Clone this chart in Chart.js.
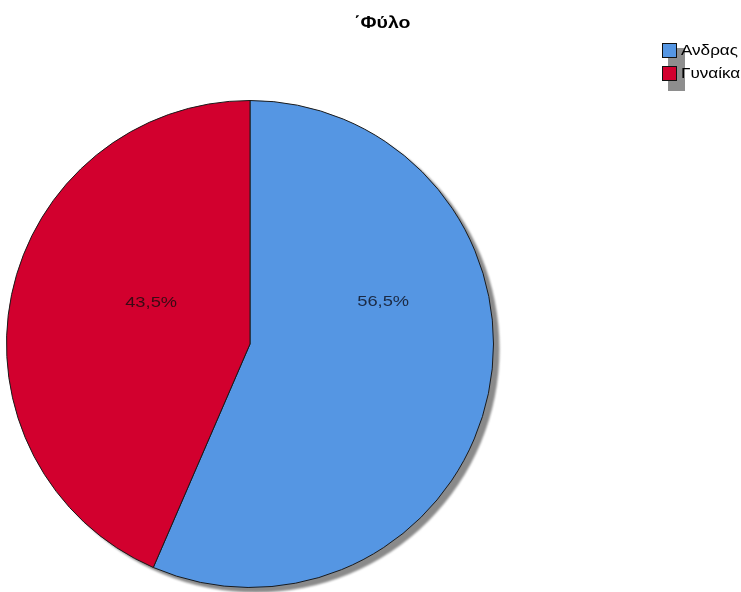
<!DOCTYPE html>
<html>
<head>
<meta charset="utf-8">
<script src="https://cdn.jsdelivr.net/npm/chart.js@4.4.0/dist/chart.umd.min.js"></script>
<style>
html,body{margin:0;padding:0;background:#fff;}
#wrap{width:741px;height:592px;position:relative;}
</style>
</head>
<body>
<div id="wrap"><canvas id="c" width="741" height="592"></canvas></div>
<script>
const titleText = "\u0384Φύλο";
const categories = ["Ανδρας", "Γυναίκα"];
const values = [56.5, 43.5];
const valueLabels = ["56,5%", "43,5%"];
const colors = ["#5596E3", "#D2002E"];

// label anchor as fraction of radius relative to pie centre (SPSS placement)
const labelAnchors = [[0.547, -0.172], [-0.406, -0.17]];
const textStretch = 1.22;

function stretchedText(ctx, txt, x, y, align) {
  ctx.save();
  const w = ctx.measureText(txt).width * textStretch;
  let left = x;
  if (align === 'center') left = x - w / 2;
  ctx.translate(left, y);
  ctx.scale(textStretch, 1);
  ctx.textAlign = 'left';
  ctx.fillText(txt, 0, 0);
  ctx.restore();
}

const decorPlugin = {
  id: 'decor',
  beforeDatasetsDraw(chart) {
    const arc = chart.getDatasetMeta(0).data[0];
    if (!arc) return;
    const ctx = chart.ctx;
    ctx.save();
    ctx.fillStyle = '#8a8a8a';
    ctx.filter = 'blur(1px)';
    ctx.beginPath();
    ctx.arc(arc.x + 6, arc.y + 5, arc.outerRadius, 0, Math.PI * 2);
    ctx.fill();
    ctx.restore();
  },
  afterDatasetsDraw(chart) {
    const meta = chart.getDatasetMeta(0);
    const ctx = chart.ctx;
    ctx.save();
    ctx.font = '15px "Liberation Sans", Arial, sans-serif';
    ctx.textBaseline = 'middle';
    meta.data.forEach((a, i) => {
      const r = a.outerRadius;
      ctx.fillStyle = i === 0 ? '#1b2a44' : '#3a0a14';
      stretchedText(ctx, valueLabels[i], a.x + labelAnchors[i][0] * r, a.y + labelAnchors[i][1] * r, 'center');
    });
    // title
    ctx.fillStyle = '#000';
    ctx.font = 'bold 16px "Liberation Sans", Arial, sans-serif';
    stretchedText(ctx, titleText, 354, 24, 'left');
    // legend
    ctx.fillStyle = '#8e8e8e';
    ctx.fillRect(668, 48, 17, 43);
    categories.forEach((c, i) => {
      const y = 43 + i * 23;
      ctx.fillStyle = colors[i];
      ctx.fillRect(662, y, 15, 15);
      ctx.strokeStyle = '#111';
      ctx.lineWidth = 1;
      ctx.strokeRect(662.5, y + 0.5, 14, 14);
      ctx.fillStyle = '#000';
      ctx.font = '14px "Liberation Sans", Arial, sans-serif';
      stretchedText(ctx, c, 681, y + 8, 'left');
    });
    ctx.restore();
  }
};

new Chart(document.getElementById('c'), {
  type: 'pie',
  data: {
    labels: categories,
    datasets: [{
      data: values,
      backgroundColor: colors,
      borderColor: '#1a1a1a',
      borderWidth: 1,
      hoverOffset: 0
    }]
  },
  options: {
    responsive: false,
    animation: false,
    rotation: 0,
    layout: { padding: { left: 6, top: 100, right: 247, bottom: 4 } },
    plugins: {
      legend: { display: false },
      title: { display: false },
      tooltip: { enabled: false }
    }
  },
  plugins: [decorPlugin]
});
</script>
</body>
</html>
